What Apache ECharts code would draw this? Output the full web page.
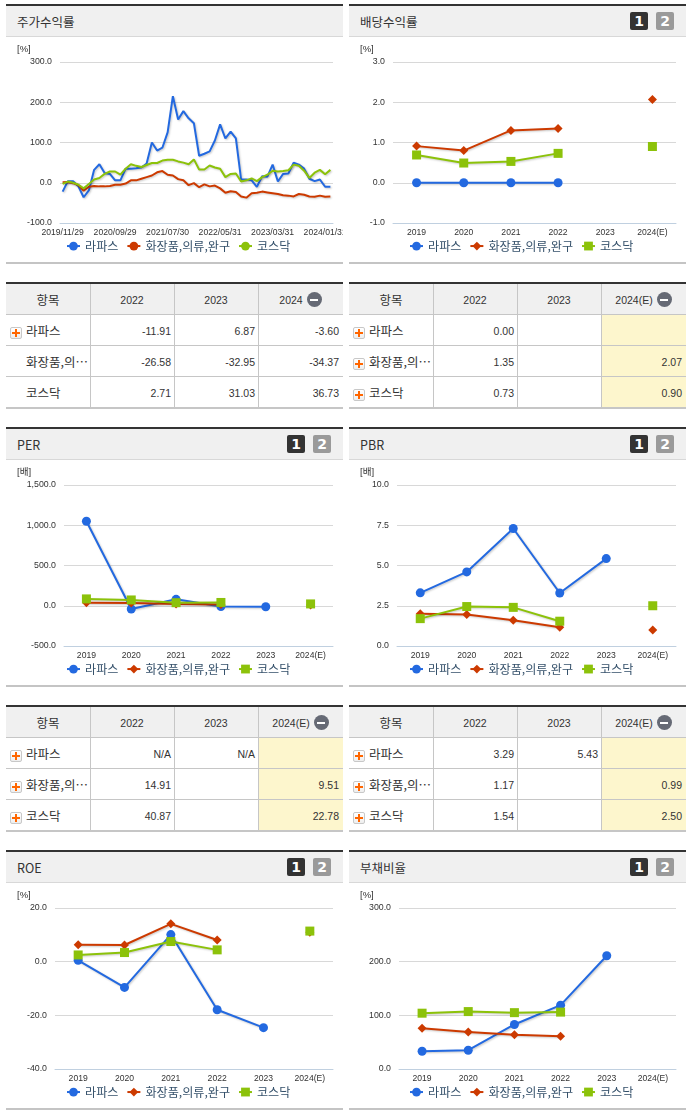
<!DOCTYPE html>
<html lang="ko"><head><meta charset="utf-8">
<script src="https://cdn.jsdelivr.net/npm/echarts@6/dist/echarts.min.js"></script>
<style>
html,body{margin:0;padding:0;background:#fff;width:691px;height:1115px;overflow:hidden}
body{position:relative;font-family:"Noto Sans CJK KR","Liberation Sans",sans-serif;color:#333}
.abs{position:absolute;box-sizing:border-box}
.title{font-size:12.5px;line-height:32px;white-space:nowrap}
.badge{width:18px;height:18px;border-radius:2px;color:#fff;font:bold 14px/18px "DejaVu Sans",sans-serif;text-align:center}
.cell{font:10.5px/33px "Liberation Sans",sans-serif;white-space:nowrap;color:#333}
.lab{font:12.5px/32px "Noto Sans CJK KR",sans-serif;width:66px;overflow:hidden;text-overflow:ellipsis;white-space:nowrap}
.plus{width:12px;height:12px;border:1px solid #c8c8c8;border-radius:2px;background:
 linear-gradient(#f60,#f60) center/8px 2px no-repeat,linear-gradient(#f60,#f60) center/2px 8px no-repeat,linear-gradient(#fff,#eee)}
.minus{display:inline-block;width:15px;height:15px;border-radius:50%;margin-left:4px;vertical-align:-3px;background:
 linear-gradient(#fff,#fff) center/8px 2px no-repeat,#666a75}
</style></head><body>
<script>
// ---------- data ----------
const seriesNames = ['라파스','화장품,의류,완구','코스닥'];
const years = ['2019','2020','2021','2022','2023','2024(E)'];
const priceDates = ['2019/11/29','2019/12/30','2020/01/31','2020/02/28','2020/03/31','2020/04/29','2020/05/29','2020/06/30','2020/07/31','2020/08/31',
 '2020/09/29','2020/10/30','2020/11/30','2020/12/30','2021/01/29','2021/02/26','2021/03/31','2021/04/30','2021/05/31','2021/06/30',
 '2021/07/30','2021/08/31','2021/09/30','2021/10/29','2021/11/30','2021/12/30','2022/01/28','2022/02/28','2022/03/31','2022/04/29',
 '2022/05/31','2022/06/30','2022/07/29','2022/08/31','2022/09/30','2022/10/31','2022/11/30','2022/12/29','2023/01/31','2023/02/28',
 '2023/03/31','2023/04/28','2023/05/31','2023/06/30','2023/07/31','2023/08/31','2023/09/27','2023/10/31','2023/11/30','2023/12/28',
 '2024/01/31','2024/02/29'];
const priceBlue = [-22,4,4,-9,-36,-19,32,46,24,22,6,6,35,35,36,38,48,100,80,87,125,215,157,178,160,148,67,72,78,105,145,110,127,110,8,8,6,-10,16,15,45,3,22,23,50,45,35,10,4,8,-10,-10];
const priceRed = [1,2,-1,-6,-20,-10,-8,-9,-9,-8,-5,-5,-2,6,6,10,14,18,26,29,20,18,9,6,-6,-1,-11,-4,-9,-7,-14,-25,-21,-23,-34,-37,-26,-25,-22,-24,-26,-28,-31,-32,-34,-28,-30,-34,-35,-32,-35,-34];
const priceGreen = [-3,3,0,-5,-14,-3,8,12,22,28,28,20,35,46,42,39,44,49,49,55,57,57,53,50,46,58,33,33,43,38,35,14,22,23,3,6,11,4,14,20,30,28,29,31,45,42,30,12,25,32,21,32];

const divBlue = [0,0,0,0,null,null];
const divRed = [0.91,0.80,1.30,1.35,null,2.07];
const divGreen = [0.69,0.49,0.53,0.73,null,0.90];

const perBlue = [1050,-40,80,-10,-13,null];
const perRed = [38,33,22,14.91,null,9.51];
const perGreen = [85,72,38,40.87,null,22.78];

const pbrBlue = [3.3,4.6,7.3,3.29,5.43,null];
const pbrRed = [2.0,1.95,1.6,1.17,null,0.99];
const pbrGreen = [1.7,2.45,2.4,1.54,null,2.50];

const roeBlue = [0.5,-9.6,10.1,-17.9,-24.6,null];
const roeRed = [6.3,6.2,14.1,8.1,null,11.0];
const roeGreen = [2.5,3.4,7.5,4.4,null,11.4];

const debtBlue = [33,35,83,119,211,null];
const debtRed = [76,69,64,61,null,null];
const debtGreen = [104,107,105,106,null,null];

const priceHead = ['항목','2022','2023','2024'];
const estHead = ['항목','2022','2023','2024(E)'];
const priceTable = [['-11.91','6.87','-3.60'],['-26.58','-32.95','-34.37'],['2.71','31.03','36.73']];
const divTable = [['0.00','',''],['1.35','','2.07'],['0.73','','0.90']];
const perTable = [['N/A','N/A',''],['14.91','','9.51'],['40.87','','22.78']];
const pbrTable = [['3.29','5.43',''],['1.17','','0.99'],['1.54','','2.50']];

// ---------- style ----------
const COLORS = ['#2369e0','#cc3a00','#8cc20a'];
const SYMBOLS = ['circle','diamond','rect'];
const SIZES = [9,9,9];
const NUMFONT = '"Liberation Sans",sans-serif';
const PW = 337, LX = 6, RX = 349;

function el(cls, css, html){
  const d = document.createElement('div');
  d.className = 'abs ' + cls;
  d.style.cssText = css;
  if (html !== undefined) d.innerHTML = html;
  document.body.appendChild(d);
  return d;
}
function panel(x, top, titleText, badges){
  el('', `left:${x}px;top:${top}px;width:${PW}px;height:2px;background:#333`);
  el('', `left:${x}px;top:${top+2}px;width:${PW}px;height:31px;background:#f0f0f0;border-bottom:1px solid #d8d8d8`);
  el('title', `left:${x+11}px;top:${top+2}px`, titleText);
  el('', `left:${x}px;top:${top+258}px;width:${PW}px;height:2px;background:#c4c4c4`);
  if (badges){
    el('badge', `left:${x+281}px;top:${top+8}px;background:#333`, '1');
    el('badge', `left:${x+307}px;top:${top+8}px;background:#9a9a9a`, '2');
  }
}
function chart(x, top, o){
  const d = el('', `left:${x}px;top:${top}px;width:${PW}px;height:262px`);
  const c = echarts.init(d);
  const series = o.data.map((v,i)=>({
    name: seriesNames[i], type:'line', data:v, connectNulls:false, animation:false,
    symbol: o.line ? 'none' : SYMBOLS[i], symbolSize: SIZES[i], showSymbol: !o.line, showAllSymbol:true,
    itemStyle:{color:COLORS[i]},
    lineStyle:{color:COLORS[i],width:2,shadowColor:'rgba(0,0,0,0.22)',shadowBlur:2,shadowOffsetX:1,shadowOffsetY:1},
    emphasis:{disabled:true}
  }));
  c.setOption({
    animation:false,
    grid:{left:o.left,right:10,top:58,height:161,containLabel:false,outerBoundsMode:'none'},
    legend:{left:55,top:231,itemWidth:13,itemHeight:11,itemGap:8,selectedMode:false,
      textStyle:{fontFamily:'"Noto Sans CJK KR",sans-serif',fontSize:12.1,color:'#34506a',padding:[0,0,0,0]},
      data:seriesNames},
    xAxis:{type:'category',data:o.cats,boundaryGap:true,
      axisLine:{onZero:false,lineStyle:{color:'#c0d0e0',width:1}},
      axisTick:{length:4,lineStyle:{color:'#c0d0e0'},alignWithLabel:!!o.line,interval:o.line?9:0},
      axisLabel:{interval:o.line?9:0,margin:5,color:'#333',fontSize:8.6,fontFamily:NUMFONT,hideOverlap:false}},
    yAxis:{type:'value',min:o.min,max:o.max,interval:o.step,
      axisLine:{show:false},axisTick:{show:false},
      splitLine:{lineStyle:{color:'#d8d8d8',width:1}},
      axisLabel:{margin:8,color:'#333',fontSize:8.8,fontFamily:NUMFONT,
        formatter:v=>v.toLocaleString('en-US',{minimumFractionDigits:1,maximumFractionDigits:1})}},
    graphic:[{type:'text',left:11,top:41,style:{text:o.unit,fontSize:9.5,fontFamily:'"Liberation Sans","Noto Sans CJK KR",sans-serif',fill:'#333'}}],
    series
  });
}
function table(x, top, head, rows, opts){
  const cols = [0,84,168,252,PW];
  el('', `left:${x}px;top:${top}px;width:${PW}px;height:2px;background:#333`);
  el('', `left:${x}px;top:${top+2}px;width:${PW}px;height:30px;background:#f0f0f0`);
  if (opts.est) el('', `left:${x+252}px;top:${top+33}px;width:${PW-252}px;height:93px;background:#fdf6cd`);
  [32,63,94].forEach(dy=>el('',`left:${x}px;top:${top+dy}px;width:${PW}px;height:1px;background:#c6c6c6`));
  el('',`left:${x}px;top:${top+125}px;width:${PW}px;height:2px;background:#c6c6c6`);
  [84,168,252].forEach(dx=>el('',`left:${x+dx}px;top:${top+2}px;width:1px;height:123px;background:#c6c6c6`));
  head.forEach((h,i)=>{
    const inner = i===3 ? h+'<span class="minus"></span>' : h;
    el(i===0?'lab':'cell', `left:${x+cols[i]}px;top:${top+2}px;width:${cols[i+1]-cols[i]}px;text-align:center`, inner);
  });
  rows.forEach((r,ri)=>{
    const y = top+33+ri*31;
    if (opts.plus[ri]) el('plus', `left:${x+4}px;top:${y+12}px`);
    el('lab', `left:${x+20}px;top:${y}px`, seriesNames[ri]);
    r.forEach((v,ci)=>{
      el('cell', `left:${x+cols[ci+1]}px;top:${y}px;width:${cols[ci+2]-cols[ci+1]-(ci===2?4:3)}px;text-align:right`, v);
    });
  });
}

// ---------- build ----------
panel(LX,4,'주가수익률',false);
chart(LX,4,{cats:priceDates,line:true,left:54,min:-100,max:300,step:100,unit:'[%]',data:[priceBlue,priceRed,priceGreen]});
panel(RX,4,'배당수익률',true);
chart(RX,4,{cats:years,left:44,min:-1,max:3,step:1,unit:'[%]',data:[divBlue,divRed,divGreen]});
table(LX,282,priceHead,priceTable,{est:false,plus:[1,0,0]});
table(RX,282,estHead,divTable,{est:true,plus:[1,1,1]});

panel(LX,427,'PER',true);
chart(LX,427,{cats:years,left:58,min:-500,max:1500,step:500,unit:'[배]',data:[perBlue,perRed,perGreen]});
panel(RX,427,'PBR',true);
chart(RX,427,{cats:years,left:48,min:0,max:10,step:2.5,unit:'[배]',data:[pbrBlue,pbrRed,pbrGreen]});
table(LX,705,estHead,perTable,{est:true,plus:[1,1,1]});
table(RX,705,estHead,pbrTable,{est:true,plus:[1,1,1]});

panel(LX,850,'ROE',true);
chart(LX,850,{cats:years,left:49,min:-40,max:20,step:20,unit:'[%]',data:[roeBlue,roeRed,roeGreen]});
panel(RX,850,'부채비율',true);
chart(RX,850,{cats:years,left:50,min:0,max:300,step:100,unit:'[%]',data:[debtBlue,debtRed,debtGreen]});
</script>
</body></html>
